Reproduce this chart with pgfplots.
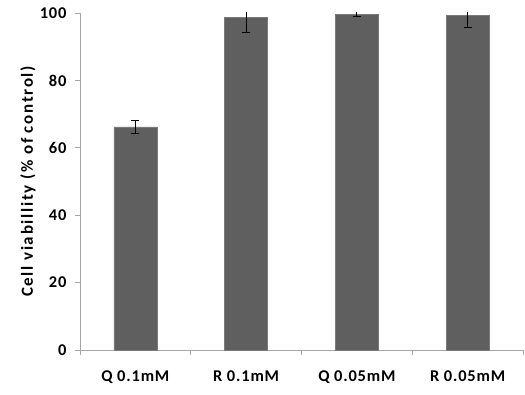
\documentclass[border=0pt]{standalone}
\usepackage{pgfplots}
\pgfplotsset{compat=1.18}
\usepackage{fontspec}
\setmainfont{Carlito}
\newfontfamily\tickfont[LetterSpace=5]{Carlito}
\newfontfamily\lblfont[LetterSpace=10]{Carlito}
\definecolor{barfill}{HTML}{5F5F5F}
\definecolor{baredge}{HTML}{7A7A7A}
\definecolor{axisgray}{HTML}{A6A6A6}
\begin{document}
\begin{tikzpicture}
\begin{axis}[
  scale only axis,
  width=443bp, height=337bp,
  xmin=-0.5, xmax=3.5,
  ymin=0, ymax=100,
  axis x line*=bottom, axis y line*=left,
  axis line style={draw=axisgray, line width=0.9pt, -},
  xtick={0,1,2,3},
  xticklabels={Q 0.1mM, R 0.1mM, Q 0.05mM, R 0.05mM},
  minor xtick={-0.5,0.5,1.5,2.5,3.5},
  major x tick style={draw=none},
  minor x tick style={draw=axisgray, line width=0.9pt},
  ytick={0,20,40,60,80,100},
  y tick style={draw=axisgray, line width=0.9pt},
  tick align=outside,
  major tick length=5bp, minor tick length=5bp,
  /pgf/number format/assume math mode=true,
  tick label style={font=\tickfont\bfseries\fontsize{16.5}{18}\selectfont},
  xticklabel style={yshift=-12bp},
  yticklabel style={xshift=-5bp},
  ylabel={Cell viabillity (\% of control)},
  every axis y label/.style={at={(rel axis cs:0,0.5)}, rotate=90, anchor=center, yshift=52bp,
    font=\lblfont\bfseries\fontsize{17}{18}\selectfont},
  clip=true,
]
\addplot[ybar, bar width=43bp, fill=barfill, draw=baredge, line width=0.6pt,
  error bars/.cd, y dir=both, y explicit,
  error bar style={black, line width=0.8pt},
  error mark options={rotate=90, mark size=4bp, black, line width=0.8pt}]
  coordinates {
  (0,66.2) +- (0,2.0)
  (1,98.8) +- (0,4.5)
  (2,99.7) +- (0,0.7)
  (3,99.3) +- (0,3.5)
  };
\coordinate (sw) at (rel axis cs:0,0);
\coordinate (ne) at (rel axis cs:1,1);
\end{axis}
\pgfresetboundingbox
\path ([xshift=-80bp,yshift=-45bp]sw) rectangle ([xshift=2bp,yshift=13bp]ne);
\end{tikzpicture}
\end{document}
